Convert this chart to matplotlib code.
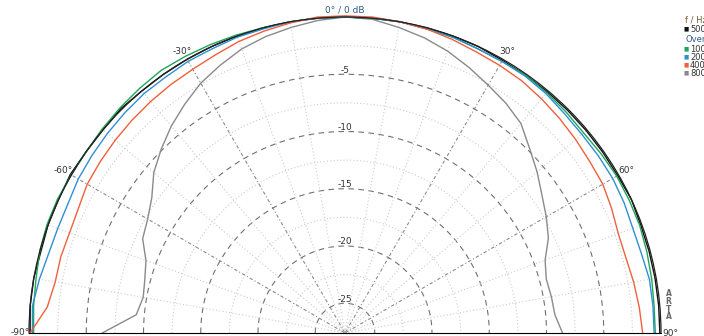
import numpy as np
import matplotlib
matplotlib.use('Agg')
import matplotlib.pyplot as plt

# polar response, levels in dB relative to on-axis, every 5 degrees from -90 to 90
angles = list(range(-90, 95, 5))

lvl_500 = [-0.1, 0.0, 0.0, -0.1, 0.0, 0.0, 0.1, 0.0, 0.0, 0.1, 0.0, 0.0, 0.0,
           0.0, 0.0, 0.0, 0.0, 0.0, 0.0, 0.0, 0.0, 0.0, 0.0, 0.0, -0.1, -0.1,
           -0.1, -0.1, -0.1, -0.1, -0.1, 0.0, -0.1, -0.1, -0.1, -0.1, -0.1]
lvl_1000 = [-0.4, -0.3, -0.2, 0.0, 0.1, 0.1, 0.0, 0.0, 0.1, 0.2, 0.3, 0.4, 0.3,
            0.2, 0.1, 0.0, 0.0, 0.0, 0.0, 0.0, 0.0, -0.1, -0.1, -0.2, -0.2, -0.1,
            -0.2, -0.3, -0.4, -0.3, -0.2, -0.2, -0.2, -0.3, -0.4, -0.5, -0.5]
lvl_2000 = [-0.3, -0.2, -0.5, -0.8, -0.9, -0.9, -0.7, -0.6, -0.5, -0.4, -0.3, -0.3, -0.2,
            -0.2, -0.1, -0.1, 0.0, 0.0, 0.0, 0.0, 0.0, -0.1, -0.1, -0.2, -0.2, -0.2,
            -0.3, -0.5, -0.6, -0.6, -0.6, -0.7, -0.85, -0.8, -0.6, -0.6, -0.6]
lvl_4000 = [-0.1, -1.5, -1.9, -1.9, -2.0, -1.9, -1.6, -1.5, -1.4, -1.3, -1.2, -1.1, -1.0,
            -0.8, -0.5, -0.3, -0.1, 0.1, 0.1, 0.1, 0.0, -0.1, -0.3, -0.5, -0.6, -0.7,
            -0.9, -1.1, -1.3, -1.5, -1.6, -1.9, -2.2, -2.2, -2.0, -1.8, -1.6]
lvl_8000 = [-6.4, -9.3, -9.7, -9.5, -9.1, -8.1, -7.7, -7.0, -5.8, -4.9, -4.0, -3.2, -2.4,
            -1.8, -1.2, -0.8, -0.5, -0.2, 0.0, -0.1, -0.5, -0.9, -1.4, -2.0, -2.6, -3.1,
            -3.7, -4.8, -5.7, -6.6, -7.3, -8.0, -9.0, -9.4, -9.3, -9.2, -8.6]

ref_label = "500"
overlay_labels = ["1000", "2000", "4000", "8000"]
colors = ['#111111', '#1fa55a', '#2f8fd3', '#f0603c', '#8a8a8a']

ring_major = [-5, -10, -15, -20, -25]
ring_minor = [-2.5, -7.5, -12.5, -17.5, -22.5]
angle_labels = [-90, -60, -30, 30, 60, 90]
rmin = -27.6

fig = plt.figure(figsize=(7.04, 3.36), dpi=100)
# the half disc only uses the middle half of the box height, so the box is
# made twice as tall and shifted down
ax = fig.add_axes([29 / 704, -155 / 336, 632 / 704, 632 / 336], projection='polar')
ax.set_theta_zero_location('N')
ax.set_theta_direction(-1)
ax.set_thetamin(-90)
ax.set_thetamax(90)
ax.set_rlim(rmin, 0)
ax.set_aspect('auto')
ax.grid(False)
ax.set_xticks([])
ax.set_yticks([])
ax.spines['start'].set_visible(False)
ax.spines['end'].set_visible(False)
ax.spines['inner'].set_visible(False)
ax.spines['polar'].set_color('#222222')
ax.spines['polar'].set_linewidth(0.9)

# grid drawn by hand: dashed 5 dB rings, dotted half steps, rays every 10 deg
th = np.linspace(-np.pi / 2, np.pi / 2, 361)
for r in ring_minor:
    ax.plot(th, np.full_like(th, r), color='#cccccc', lw=0.8, ls=(0, (1, 2)))
for r in ring_major:
    ax.plot(th, np.full_like(th, r), color='#707070', lw=0.8, ls=(0, (5, 4)))
for a in range(-80, 90, 10):
    if a == 0:
        continue
    if a % 30 == 0:
        ax.plot([np.deg2rad(a)] * 2, [rmin, 0], color='#8a8a8a', lw=0.8,
                ls=(0, (3, 2, 1, 2)))
    else:
        ax.plot([np.deg2rad(a)] * 2, [rmin, 0], color='#cccccc', lw=0.8,
                ls=(0, (1, 2)))

theta = np.deg2rad(angles)
all_lvls = [lvl_500, lvl_1000, lvl_2000, lvl_4000, lvl_8000]
for idx in [4, 0, 1, 2, 3]:
    ax.plot(theta, all_lvls[idx], color=colors[idx], lw=1.0, clip_on=False)

# labels
tcol = '#333333'
for a in angle_labels:
    ax.text(np.deg2rad(a), 0.8, f"{a}°", ha='center', va='center',
            fontsize=6.5, color=tcol, clip_on=False)
ax.text(0, 0.6, "0° / 0 dB", ha='center', va='center', fontsize=6.5,
        color='#2c5d8a', clip_on=False)
for r in ring_major:
    ax.text(0, r + 0.35, f"{r}", ha='center', va='center', fontsize=6.5,
            color=tcol)

# legend, cut at the right edge like the original
fig.text(685 / 704, 1 - 20 / 336, "f / Hz", fontsize=6, color='#7a5a3a',
         va='center', ha='left')
fig.text(686 / 704, 1 - 29 / 336, "■", fontsize=4, color=colors[0],
         va='center', ha='center')
fig.text(690 / 704, 1 - 29 / 336, ref_label, fontsize=6, color=tcol,
         va='center', ha='left')
fig.text(685 / 704, 1 - 40 / 336, "Overlay", fontsize=6, color='#2c5d8a',
         va='center', ha='left')
for i, lab in enumerate(overlay_labels):
    y = 1 - (49 + 8 * i) / 336
    fig.text(686 / 704, y, "■", fontsize=4, color=colors[i + 1],
             va='center', ha='center')
    fig.text(690 / 704, y, lab, fontsize=6, color=tcol, va='center', ha='left')

for i, ch in enumerate("ARTA"):
    fig.text(668.5 / 704, 1 - (294 + 7.5 * i) / 336, ch, fontsize=5.5,
             color='#666666', ha='center', va='center', fontweight='bold')

fig.savefig('out.png', dpi=100)
